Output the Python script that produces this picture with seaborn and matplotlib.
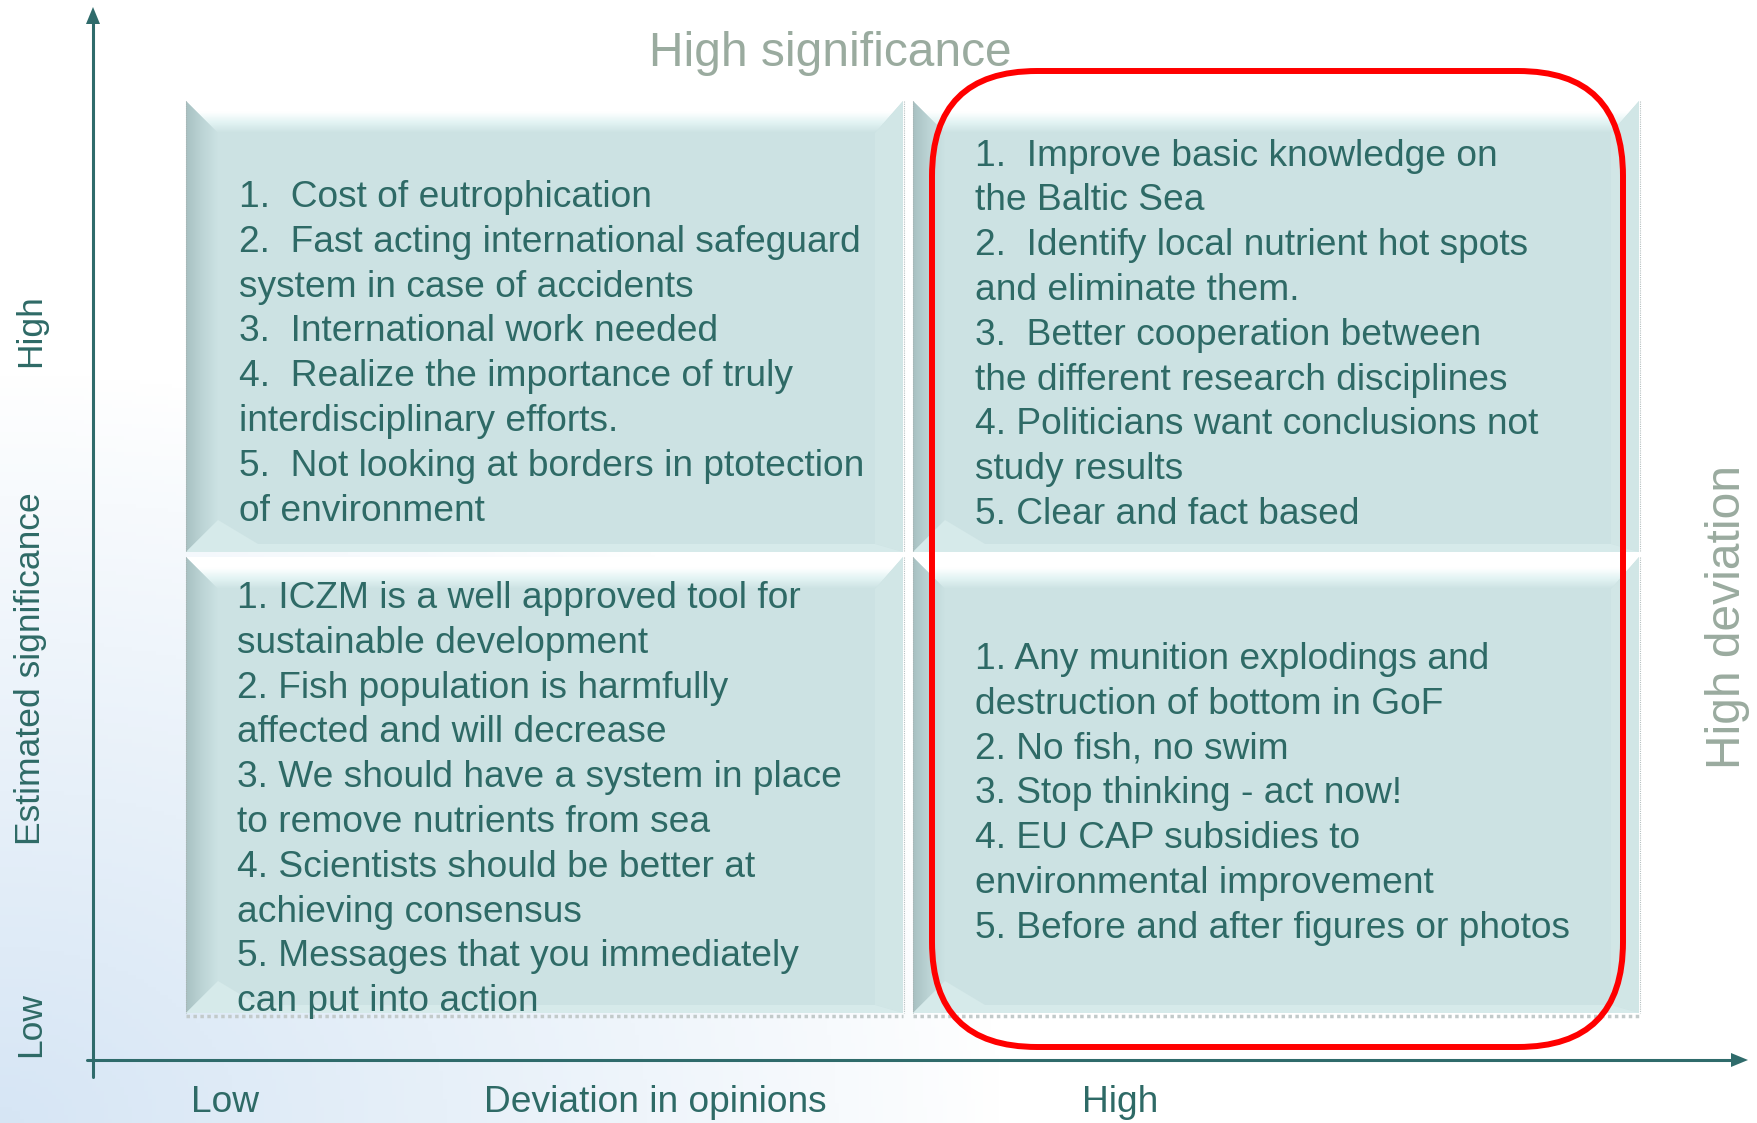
import numpy as np
import matplotlib.pyplot as plt
import seaborn as sns
from matplotlib.patches import Polygon, FancyBboxPatch, Rectangle

# Chart content
TITLE_TOP = "High significance"
TITLE_RIGHT = "High deviation"
Y_LABELS = ["High", "Estimated significance", "Low"]
X_LABELS = ["Low", "Deviation in opinions", "High"]

top_left = [
    "1.  Cost of eutrophication",
    "2.  Fast acting international safeguard",
    "system in case of accidents",
    "3.  International work needed",
    "4.  Realize the importance of truly",
    "interdisciplinary efforts.",
    "5.  Not looking at borders in ptotection",
    "of environment",
]
top_right = [
    "1.  Improve basic knowledge on",
    "the Baltic Sea",
    "2.  Identify local nutrient hot spots",
    "and eliminate them.",
    "3.  Better cooperation between",
    "the different research disciplines",
    "4. Politicians want conclusions not",
    "study results",
    "5. Clear and fact based",
]
bottom_left = [
    "1. ICZM is a well approved tool for",
    "sustainable development",
    "2. Fish population is harmfully",
    "affected and will decrease",
    "3. We should have a system in place",
    "to remove nutrients from sea",
    "4. Scientists should be better at",
    "achieving consensus",
    "5. Messages that you immediately",
    "can put into action",
]
bottom_right = [
    "1. Any munition explodings and",
    "destruction of bottom in GoF",
    "2. No fish, no swim",
    "3. Stop thinking - act now!",
    "4. EU CAP subsidies to",
    "environmental improvement",
    "5. Before and after figures or photos",
]

# Colours
TEAL = "#2e6a66"
AXIS = "#2f6b6b"
GREY = "#9aab9f"
FILL = "#cce2e3"
RED = "#ff0000"

W, H = 1758, 1123

sns.set_theme(style="white")
plt.rcParams["font.family"] = ["Liberation Sans", "DejaVu Sans"]

fig = plt.figure(figsize=(W / 100, H / 100), dpi=100)
ax = fig.add_axes([0, 0, 1, 1])
ax.set_axis_off()

# light blue wash from the bottom-left corner
yy, xx = np.mgrid[0:H:4, 0:W:4]
w = np.clip(1 - np.sqrt((xx / 1000.0) ** 2 + ((H - yy) / 750.0) ** 2), 0, 1) ** 0.9
blue = np.array([0.84, 0.90, 0.96])
bg = np.ones(xx.shape + (3,)) * (1 - w[..., None]) + blue * w[..., None]
ax.imshow(bg, extent=[0, W, H, 0], origin="upper", aspect="auto", zorder=0)

top_grad = sns.blend_palette(["#ffffff", "#ffffff", "#e3f4f4", FILL], as_cmap=True)
left_grad = sns.blend_palette(["#a8c1c2", "#bcd4d5", FILL], as_cmap=True)


def draw_box(x0, y0, x1, y1, shadow, bt=32, bl=32, br=28, bb=8):
    ax.add_patch(Rectangle((x0, y0), x1 - x0, y1 - y0, facecolor=FILL,
                           edgecolor="none", zorder=2))
    # top bevel
    poly = Polygon([(x0, y0), (x1, y0), (x1 - br, y0 + bt), (x0 + bl, y0 + bt)],
                   closed=True, facecolor="none", edgecolor="none")
    ax.add_patch(poly)
    g = np.linspace(0, 1, 64)[:, None] * np.ones((1, 4))
    im = ax.imshow(g, extent=[x0, x1, y0 + bt, y0], origin="upper",
                   aspect="auto", cmap=top_grad, zorder=3)
    im.set_clip_path(poly)
    # left bevel
    poly = Polygon([(x0, y0), (x0 + bl, y0 + bt), (x0 + bl, y1 - bl), (x0, y1)],
                   closed=True, facecolor="none", edgecolor="none")
    ax.add_patch(poly)
    g = np.ones((4, 1)) * np.linspace(0, 1, 64)[None, :]
    im = ax.imshow(g, extent=[x0, x0 + bl, y1, y0], origin="upper",
                   aspect="auto", cmap=left_grad, zorder=3)
    im.set_clip_path(poly)
    # right and bottom bevels, very soft
    ax.add_patch(Polygon([(x1, y0), (x1 - br, y0 + bt), (x1 - br, y1 - bb), (x1, y1)],
                         closed=True, facecolor="#d1e6e6", edgecolor="none", zorder=3))
    ax.add_patch(Polygon([(x0, y1), (x0 + bl, y1 - bl), (x0 + bl + 40, y1 - bb),
                          (x1 - br, y1 - bb), (x1, y1)],
                         closed=True, facecolor="#d6eaea", edgecolor="none", zorder=3))
    # thin dotted outline
    ax.plot([x0, x0], [y0, y1], color="#a9b4b4", lw=0.8, ls=(0, (1, 1)), zorder=4)
    ax.plot([x1 + 1, x1 + 1], [y0, y1], color="#b6c0c0", lw=0.8,
            ls=(0, (1, 1)), zorder=4)
    if shadow:
        ax.plot([x0, x1], [y1 + 3, y1 + 3], color="#c2caca", lw=2.5,
                ls=(0, (1, 1)), zorder=4)


boxes = [(186, 101, 903, 552, False), (913, 101, 1639, 552, False),
         (186, 557, 903, 1013, True), (913, 557, 1639, 1013, True)]
for bx in boxes:
    draw_box(*bx)

# quadrant texts
LINE = 44.8
FS = 26.7
quadrants = [(top_left, 239, 207), (top_right, 975, 165.5),
             (bottom_left, 237, 608), (bottom_right, 975, 669)]
for lines, x, y in quadrants:
    for i, line in enumerate(lines):
        ax.text(x, y + i * LINE, line, color=TEAL, fontsize=FS,
                ha="left", va="baseline", zorder=6)

# red highlight around the high deviation column
ax.add_patch(FancyBboxPatch((932, 71), 1623 - 932, 1047 - 71,
                            boxstyle="round,pad=0,rounding_size=105",
                            facecolor="none", edgecolor=RED, lw=4.3, zorder=7))

# axes arrows
ax.plot([93, 93], [1077, 22], color=AXIS, lw=2.2, zorder=5)
ax.add_patch(Polygon([(86, 24), (100, 24), (93, 7)], closed=True,
                     facecolor=AXIS, edgecolor="none", zorder=5))
ax.plot([87, 1734], [1060, 1060], color=AXIS, lw=2.2, zorder=5)
ax.add_patch(Polygon([(1731, 1053), (1731, 1067), (1748, 1060)], closed=True,
                     facecolor=AXIS, edgecolor="none", zorder=5))

# titles
ax.text(830, 54, TITLE_TOP, color=GREY, fontsize=34.5, ha="center",
        va="center", zorder=6)
ax.text(1728, 617, TITLE_RIGHT, color=GREY, fontsize=34.5, ha="center",
        va="center", rotation=90, zorder=6)

# axis labels
for lab, y in zip(Y_LABELS, [331, 669, 1025]):
    ax.text(31, y, lab, color=TEAL, fontsize=25.5, ha="center", va="center",
            rotation=90, zorder=6)
for lab, x in zip(X_LABELS, [191, 484, 1082]):
    ax.text(x, 1102, lab, color=TEAL, fontsize=26.7, ha="left", va="center",
            zorder=6)

ax.set_xlim(0, W)
ax.set_ylim(H, 0)
fig.savefig("out.png", dpi=100)
